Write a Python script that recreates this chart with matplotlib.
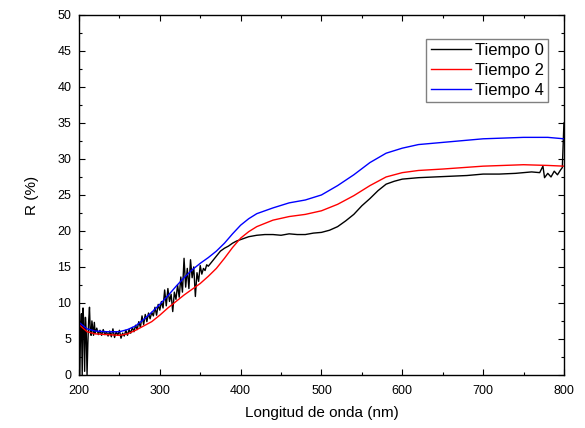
import matplotlib
matplotlib.use("Agg")
import matplotlib.pyplot as plt
from matplotlib.ticker import MultipleLocator

plt.rcParams['font.family'] = ['Liberation Sans', 'DejaVu Sans']

# Tiempo 0 (noisy measurement)
wl_t0 = [200, 201, 202, 203, 204, 205, 206, 207, 208, 209, 210, 211, 212, 213, 214,
         215, 216, 217, 218, 219, 220, 222, 224, 226, 228, 230, 232, 234, 236, 238,
         240, 242, 244, 246, 248, 250, 252, 254, 256, 258, 260, 262, 264, 266, 268,
         270, 272, 274, 276, 278, 280, 282, 284, 286, 288, 290, 292, 294, 296, 298,
         300, 302, 304, 306, 308, 310, 312, 314, 316, 318, 320, 322, 324, 326, 328,
         330, 332, 334, 336, 338, 340, 342, 344, 346, 348, 350, 352, 354, 356, 358,
         360, 365, 370, 375, 380, 385, 390, 395, 400, 410, 420, 430, 440, 450, 460,
         470, 480, 490, 500, 510, 520, 530, 540, 550, 560, 570, 580, 590, 600, 620,
         640, 660, 680, 700, 720, 740, 760, 770, 774, 776, 780, 784, 788, 792, 796,
         798, 800]
r_t0 = [7.0, 0.0, 6.5, 8.5, 0.0, 9.3, 7.0, 0.5, 8.0, 6.0, 0.0, 4.5, 7.5, 9.4, 6.0,
        5.5, 7.5, 6.5, 5.5, 7.3, 5.8, 6.5, 5.6, 6.2, 5.5, 6.3, 5.6, 6.0, 5.4, 6.1,
        5.3, 6.4, 5.2, 6.0, 5.5, 6.2, 5.1, 5.8, 5.4, 6.2, 5.5, 6.3, 5.8, 6.6, 6.0,
        6.9, 6.3, 7.4, 6.6, 8.2, 7.0, 8.4, 7.4, 8.6, 7.8, 8.7, 8.2, 9.4, 8.3, 9.8,
        9.0, 10.2, 9.3, 11.8, 9.6, 12.0, 10.2, 11.2, 8.8, 11.5, 10.5, 12.5, 10.8, 13.6, 11.5,
        16.2, 12.2, 14.8, 12.0, 16.0, 13.5, 15.0, 10.9, 14.2, 13.0, 15.2, 14.0, 14.8, 14.5, 15.3,
        15.1, 15.8, 16.5, 17.2, 17.6, 17.9, 18.3, 18.6, 18.8, 19.2, 19.4, 19.5, 19.5, 19.4, 19.6,
        19.5, 19.5, 19.7, 19.8, 20.1, 20.6, 21.4, 22.3, 23.5, 24.5, 25.6, 26.5, 26.9, 27.2, 27.4,
        27.5, 27.6, 27.7, 27.9, 27.9, 28.0, 28.2, 28.1, 29.0, 27.4, 28.0, 27.5, 28.3, 27.8, 28.5,
        28.8, 35.0]

# Tiempo 2 and Tiempo 4 (smooth curves)
wl_smooth = [200, 210, 220, 235, 250, 260, 270, 280, 290, 300, 310, 320, 330, 340, 350,
             360, 370, 380, 390, 400, 410, 420, 440, 460, 480, 500, 520, 540, 560, 580,
             600, 620, 650, 700, 750, 780, 800]
r_t2 = [7.0, 6.0, 5.7, 5.6, 5.5, 5.7, 6.2, 6.8, 7.4, 8.3, 9.3, 10.2, 11.1, 11.9, 12.7,
        13.7, 14.8, 16.2, 17.7, 19.0, 19.9, 20.6, 21.5, 22.0, 22.3, 22.8, 23.7, 24.9, 26.3, 27.5,
        28.1, 28.4, 28.6, 29.0, 29.2, 29.1, 29.0]
r_t4 = [7.3, 6.4, 6.1, 6.0, 6.0, 6.3, 6.8, 7.7, 8.7, 9.8, 11.0, 12.3, 13.5, 14.6, 15.5,
        16.3, 17.2, 18.3, 19.6, 20.8, 21.7, 22.4, 23.2, 23.9, 24.3, 25.0, 26.3, 27.8, 29.5, 30.8,
        31.5, 32.0, 32.3, 32.8, 33.0, 33.0, 32.8]

fig = plt.figure(figsize=(5.85, 4.28), dpi=100)
ax = fig.add_axes([0.135, 0.124, 0.829, 0.841])

ax.plot(wl_t0, r_t0, color='black', lw=1.0, label='Tiempo 0')
ax.plot(wl_smooth, r_t2, color='red', lw=1.0, label='Tiempo 2')
ax.plot(wl_smooth, r_t4, color='blue', lw=1.0, label='Tiempo 4')

ax.set_xlim(200, 800)
ax.set_ylim(0, 50)
ax.xaxis.set_major_locator(MultipleLocator(100))
ax.xaxis.set_minor_locator(MultipleLocator(50))
ax.yaxis.set_major_locator(MultipleLocator(5))
ax.yaxis.set_minor_locator(MultipleLocator(2.5))
ax.tick_params(which='both', direction='in', top=True, right=True, labelsize=9, width=0.8)
ax.tick_params(which='major', length=4)
ax.tick_params(which='minor', length=2.5)
ax.tick_params(axis='x', which='major', pad=7)
ax.tick_params(axis='y', which='major', pad=5.5)
for s in ax.spines.values():
    s.set_linewidth(1.0)

ax.set_xlabel('Longitud de onda (nm)', fontsize=11, labelpad=7)
ax.set_ylabel('R (%)', fontsize=11, labelpad=13)

leg = ax.legend(loc='upper right', bbox_to_anchor=(0.967, 0.933), fontsize=12,
                handlelength=2.4, handletextpad=0.25, borderpad=0.25, labelspacing=0.3,
                fancybox=False, framealpha=1, borderaxespad=0)
leg.get_frame().set_edgecolor('#808080')
leg.get_frame().set_linewidth(1.0)

plt.savefig('out.png', dpi=100)
plt.close()
